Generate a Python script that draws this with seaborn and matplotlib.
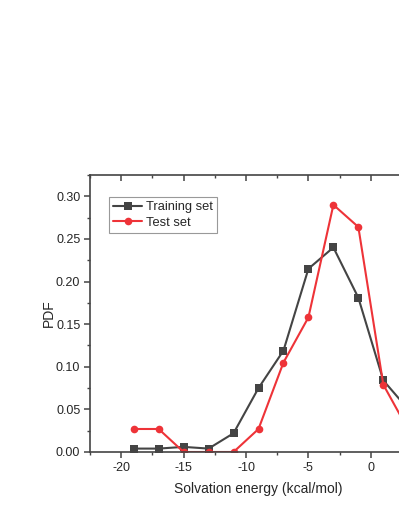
import numpy as np
import pandas as pd
import matplotlib
matplotlib.use('Agg')
import matplotlib.pyplot as plt
import seaborn as sns
from matplotlib.ticker import MultipleLocator

# bin centres (kcal/mol) and PDF values
energy = [-19, -17, -15, -13, -11, -9, -7, -5, -3, -1, 1, 3]
pdf_train = [0.004, 0.004, 0.006, 0.004, 0.022, 0.075, 0.119, 0.215, 0.240, 0.181, 0.084, 0.050]
pdf_test = [0.027, 0.027, 0.000, 0.000, 0.000, 0.027, 0.105, 0.158, 0.290, 0.264, 0.079, 0.026]

df = pd.DataFrame({
    'energy': energy * 2,
    'pdf': pdf_train + pdf_test,
    'set': ['Training set'] * len(energy) + ['Test set'] * len(energy),
})

sns.set_style('ticks')
plt.rcParams['font.family'] = ['Liberation Sans', 'DejaVu Sans']
plt.rcParams['axes.unicode_minus'] = False

gray = '#444444'
red = '#ee3338'

fig = plt.figure(figsize=(3.99, 5.16), dpi=100)
# axes runs off the right edge of the canvas, like the cropped original
ax = fig.add_axes([90 / 399, 64 / 516, 337 / 399, 277 / 516])

sns.lineplot(data=df, x='energy', y='pdf', hue='set', style='set',
             palette={'Training set': gray, 'Test set': red},
             markers={'Training set': 's', 'Test set': 'o'}, dashes=False,
             markersize=5.5, markeredgewidth=0, linewidth=1.5, ax=ax)

ax.set_xlim(-22.5, 4.5)
ax.set_ylim(0, 0.325)
ax.xaxis.set_major_locator(MultipleLocator(5))
ax.xaxis.set_minor_locator(MultipleLocator(2.5))
ax.yaxis.set_major_locator(MultipleLocator(0.05))
ax.yaxis.set_minor_locator(MultipleLocator(0.025))
ax.yaxis.set_major_formatter(matplotlib.ticker.FormatStrFormatter('%.2f'))

for s in ax.spines.values():
    s.set_visible(True)
    s.set_color(gray)
    s.set_linewidth(1.2)

ax.tick_params(which='major', direction='out', length=4, width=1.1, color=gray,
               labelsize=9, pad=3)
ax.tick_params(which='minor', direction='out', length=2.5, width=1.0, color=gray)

# top axis: inward ticks without labels
top = ax.secondary_xaxis('top')
top.xaxis.set_major_locator(MultipleLocator(5))
top.xaxis.set_minor_locator(MultipleLocator(2.5))
top.tick_params(which='major', direction='in', length=4, width=1.1, color=gray, labeltop=False)
top.tick_params(which='minor', direction='in', length=2.5, width=1.0, color=gray)
top.spines['top'].set_visible(False)

ax.set_xlabel('Solvation energy (kcal/mol)', fontsize=10, labelpad=6)
ax.set_ylabel('PDF', fontsize=10, labelpad=0)

handles, labels = ax.get_legend_handles_labels()
leg = ax.legend(handles, labels, loc='upper left', bbox_to_anchor=(0.056, 0.92),
                borderaxespad=0, fontsize=9.3, handlelength=2.3, handletextpad=0.3,
                labelspacing=0.3, borderpad=0.3, fancybox=False, framealpha=1,
                edgecolor='#999999')
leg.get_frame().set_linewidth(0.8)

fig.savefig('out.png', dpi=100)
